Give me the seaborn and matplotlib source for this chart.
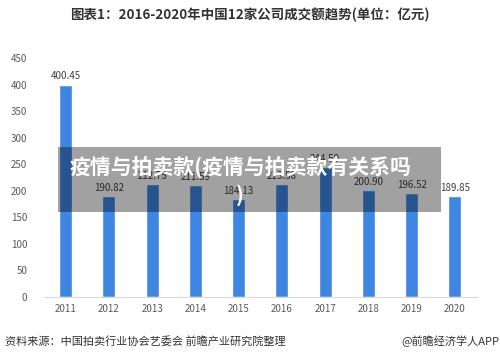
import matplotlib.pyplot as plt
import seaborn as sns
import pandas as pd
from matplotlib.patches import Rectangle

# 数据
years = ['2011', '2012', '2013', '2014', '2015', '2016', '2017', '2018', '2019', '2020']
amounts = [400.45, 190.82, 212.75, 211.59, 184.13, 213.58, 244.50, 200.90, 196.52, 189.85]
y_ticks = [0, 50, 100, 150, 200, 250, 300, 350, 400, 450]

title = '图表1：2016-2020年中国12家公司成交额趋势(单位：亿元)'
source = '资料来源：中国拍卖行业协会艺委会 前瞻产业研究院整理'
brand = '@前瞻经济学人APP'
overlay = '疫情与拍卖款(疫情与拍卖款有关系吗\n)'

df = pd.DataFrame({'year': years, 'amount': amounts})

sns.set_style('white')
plt.rcParams['font.family'] = ['Noto Sans CJK SC', 'DejaVu Sans']

fig = plt.figure(figsize=(5, 3.59), dpi=100)
ax = fig.add_axes([0.088, 0.1727, 0.865, 0.665])

sns.barplot(x='year', y='amount', data=df, color='#3e86e1', width=0.3,
            saturation=1, ax=ax)

ax.set_ylim(0, 450)
ax.set_xlim(-0.5, 9.5)
ax.set_yticks(y_ticks)
ax.set_xlabel('')
ax.set_ylabel('')
ax.tick_params(axis='both', length=0, labelsize=7, colors='#595959')
ax.tick_params(axis='x', pad=5)
ax.tick_params(axis='y', pad=12)
sns.despine(ax=ax, left=True)
ax.spines['bottom'].set_color('#d9d9d9')

# 数值标签
for i, v in enumerate(amounts):
    ax.text(i, v + 6, f'{v:.2f}', ha='center', va='bottom', fontsize=7, color='#404040')

# 标题与来源
fig.text(0.5, 0.958, title, ha='center', va='center', fontsize=9.7,
         fontweight='bold', color='#333333')
fig.text(0.01, 1 - 341 / 359, source, ha='left', va='center', fontsize=8, color='#333333')
fig.text(0.998, 1 - 341 / 359, brand, ha='right', va='center', fontsize=8, color='#333333')

# 半透明遮罩和白字
fig.patches.append(Rectangle((58 / 500, 1 - 212 / 359), 383 / 500, 65 / 359,
                             transform=fig.transFigure, facecolor='black',
                             alpha=0.37, edgecolor='none', zorder=5))
fig.text(0.48, 1 - 181 / 359, overlay, ha='center', va='center', fontsize=15,
         fontweight='heavy', color='white', linespacing=1.3, zorder=6)

plt.savefig('out.png', dpi=100)
